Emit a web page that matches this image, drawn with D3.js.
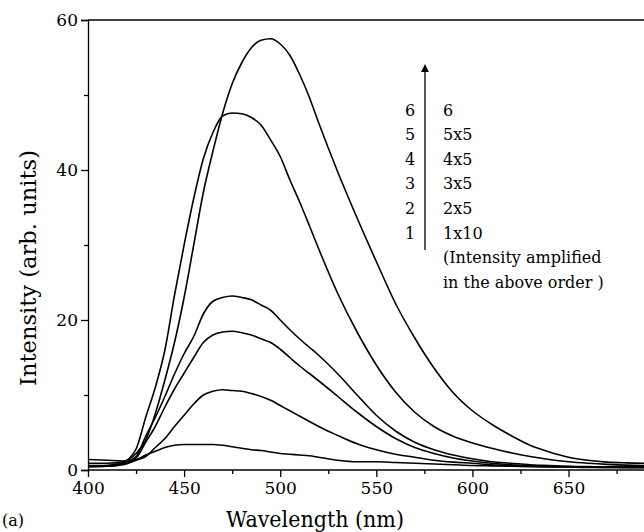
<!DOCTYPE html>
<html>
  <head>
    <title>Emission spectra</title>
    <script src="https://d3js.org/d3.v7.js"></script>
    <style>
      body { margin: 0; background: #fff; }
    </style>
  </head>
  <body>
    <svg width="644" height="532"></svg>

    <script>
      (function (d3) {
        'use strict';

        const serif = "'DejaVu Serif', serif";

        // wavelength grid (nm) shared by all spectra
        const wavelengths = [
          400, 410, 418, 425, 430, 435, 440, 445, 450, 455, 460, 465, 470, 475,
          480, 485, 490, 495, 500, 505, 510, 515, 520, 530, 540, 550, 560, 570,
          580, 590, 600, 610, 620, 630, 640, 650, 660, 670, 680, 690,
        ];

        // spectra (arb. units, already amplified)
        const spectrum6 = [
          0.9, 0.9, 1.1, 2.2, 4, 7.5, 12, 17, 23, 30, 37, 42.5, 47.5, 51.5,
          54.3, 56.3, 57.3, 57.5, 56.8, 55.3, 52.8, 49.8, 46.3, 39.7, 33.6, 27.8, 22.2, 17.6,
          13.6, 10.3, 7.9, 6.1, 4.6, 3.3, 2.4, 1.7, 1.3, 1.05, 0.95, 0.9,
        ];
        const spectrum5 = [
          0.5, 0.6, 1.0, 2.8, 7, 11, 16, 23.3, 30, 36.2, 41.5, 45, 47.2, 47.6,
          47.5, 47, 46, 44, 41.8, 38.7, 35.8, 32.7, 29.5, 23.5, 18.4, 14, 10.4, 7.7,
          5.8, 4.5, 3.6, 2.9, 2.3, 1.8, 1.4, 1.1, 0.9, 0.75, 0.65, 0.6,
        ];
        const spectrum4 = [
          0.6, 0.6, 0.9, 1.8, 4.5, 7, 9.8, 12.8, 15.5, 17.8, 20.8, 22.5, 23, 23.2,
          23, 22.7, 22, 21.3, 20, 18.7, 17.5, 16.4, 15.3, 12.8, 10, 7.3, 5.2, 3.7,
          2.7, 2, 1.5, 1.1, 0.9, 0.7, 0.6, 0.5, 0.45, 0.4, 0.4, 0.4,
        ];
        const spectrum3 = [
          0.4, 0.5, 0.8, 1.6, 3.7, 5.8, 8.4, 10.8, 12.9, 15, 17, 18, 18.4, 18.5,
          18.3, 18, 17.5, 17, 16.1, 15, 13.9, 12.9, 11.9, 9.8, 7.7, 5.8, 4.2, 3,
          2.2, 1.6, 1.2, 0.9, 0.7, 0.6, 0.5, 0.45, 0.4, 0.35, 0.35, 0.35,
        ];
        const spectrum2 = [
          0.5, 0.5, 0.7, 1.3, 1.8, 3, 4.2, 5.8, 7.3, 8.8, 10, 10.5, 10.7, 10.6,
          10.5, 10.2, 9.8, 9.3, 8.6, 7.9, 7.2, 6.5, 5.8, 4.6, 3.5, 2.7, 2.1, 1.7,
          1.3, 1.05, 0.9, 0.7, 0.6, 0.5, 0.45, 0.4, 0.35, 0.35, 0.3, 0.3,
        ];
        const spectrum1 = [
          1.4, 1.3, 1.2, 1.4, 2, 2.5, 3, 3.3, 3.4, 3.4, 3.4, 3.4, 3.3, 3.1,
          2.9, 2.7, 2.6, 2.4, 2.2, 2.1, 2, 1.9, 1.7, 1.3, 1.1, 1.1, 1.0, 0.9,
          0.8, 0.7, 0.6, 0.55, 0.5, 0.45, 0.4, 0.4, 0.4, 0.4, 0.4, 0.4,
        ];

        const series = [spectrum1, spectrum2, spectrum3, spectrum4, spectrum5, spectrum6];

        const xTicks = [400, 450, 500, 550, 600, 650];
        const xMinorTicks = [425, 475, 525, 575, 625, 675];
        const yTicks = [0, 20, 40, 60];
        const yMinorTicks = [10, 30, 50];

        const legendNumbers = ['6', '5', '4', '3', '2', '1'];
        const legendFactors = ['6', '5x5', '4x5', '3x5', '2x5', '1x10'];
        const legendNote = ['(Intensity amplified', 'in the above order )'];

        const svg = d3.select('svg');

        const margin = { top: 20, right: 0, bottom: 62, left: 88 };
        const width = +svg.attr('width');
        const height = +svg.attr('height');

        const xScale = d3.scaleLinear().domain([400, 690]).range([margin.left, 645.4]);
        const yScale = d3.scaleLinear().domain([0, 60]).range([height - margin.bottom, margin.top]);

        // x axis
        const xAxisG = svg.append('g')
          .attr('transform', `translate(0,${yScale(0)})`)
          .call(d3.axisBottom(xScale).tickValues(xTicks).tickSize(7).tickPadding(5)
            .tickFormat(d3.format('d')));
        xAxisG.select('.domain').attr('d', `M${margin.left},0H${width}`);
        svg.append('g')
          .attr('transform', `translate(0,${yScale(0)})`)
          .call(d3.axisBottom(xScale).tickValues(xMinorTicks).tickSize(4).tickFormat(''))
          .select('.domain').remove();

        // y axis
        svg.append('g')
          .attr('transform', `translate(${margin.left},0)`)
          .call(d3.axisLeft(yScale).tickValues(yTicks).tickSize(7).tickPadding(3));
        svg.append('g')
          .attr('transform', `translate(${margin.left},0)`)
          .call(d3.axisLeft(yScale).tickValues(yMinorTicks).tickSize(4).tickFormat(''))
          .select('.domain').remove();

        svg.selectAll('g').attr('font-family', serif);
        svg.selectAll('.tick text').attr('fill', '#000').style('font-family', serif).style('font-size', '17px');
        svg.selectAll('.domain, .tick line').attr('stroke', '#000').attr('stroke-width', 1.3);

        // top frame line
        svg.append('line')
          .attr('x1', margin.left).attr('x2', width)
          .attr('y1', yScale(60)).attr('y2', yScale(60))
          .attr('stroke', '#000').attr('stroke-width', 1.3);

        // spectra
        const line = d3.line()
          .x((d, i) => xScale(wavelengths[i]))
          .y((d) => yScale(d))
          .curve(d3.curveMonotoneX);

        svg.append('defs').append('clipPath').attr('id', 'plot')
          .append('rect')
          .attr('x', margin.left).attr('y', margin.top)
          .attr('width', width - margin.left).attr('height', yScale(0) - margin.top);

        svg.append('g').attr('clip-path', 'url(#plot)')
          .selectAll('path')
          .data(series)
          .enter()
          .append('path')
          .attr('d', line)
          .attr('fill', 'none')
          .attr('stroke', '#000')
          .attr('stroke-width', 1.6);

        const addText = (x, y, size, str) =>
          svg.append('text')
            .attr('x', x).attr('y', y)
            .style('font-family', serif)
            .style('font-size', size + 'px')
            .attr('fill', '#000')
            .text(str);

        // axis titles
        addText(315, 527, 22, 'Wavelength (nm)')
          .attr('text-anchor', 'middle')
          .attr('textLength', 178)
          .attr('lengthAdjust', 'spacingAndGlyphs');

        addText(0, 0, 22, 'Intensity (arb. units)')
          .attr('transform', 'translate(36,268) rotate(-90)')
          .attr('text-anchor', 'middle')
          .attr('textLength', 236)
          .attr('lengthAdjust', 'spacingAndGlyphs');

        addText(2, 526, 16, '(a)');

        // legend
        const legendX = 425;
        const rowTop = 110;
        const rowStep = 24.6;

        svg.append('defs').append('marker')
          .attr('id', 'arrow')
          .attr('viewBox', '0 0 10 10')
          .attr('refX', 5).attr('refY', 5)
          .attr('markerWidth', 6).attr('markerHeight', 8)
          .attr('orient', 'auto-start-reverse')
          .append('path')
          .attr('d', 'M0,0L10,5L0,10z')
          .attr('fill', '#000');

        svg.append('line')
          .attr('x1', legendX).attr('x2', legendX)
          .attr('y1', 250).attr('y2', 68)
          .attr('stroke', '#000').attr('stroke-width', 1.3)
          .attr('marker-end', 'url(#arrow)');

        legendNumbers.forEach((d, i) => {
          addText(410, rowTop + i * rowStep, 16, d)
            .attr('dy', '0.35em')
            .attr('text-anchor', 'middle');
        });

        legendFactors.concat(legendNote).forEach((d, i) => {
          addText(443, rowTop + i * rowStep, 16, d).attr('dy', '0.35em');
        });
      })(d3);
    </script>
  </body>
</html>
